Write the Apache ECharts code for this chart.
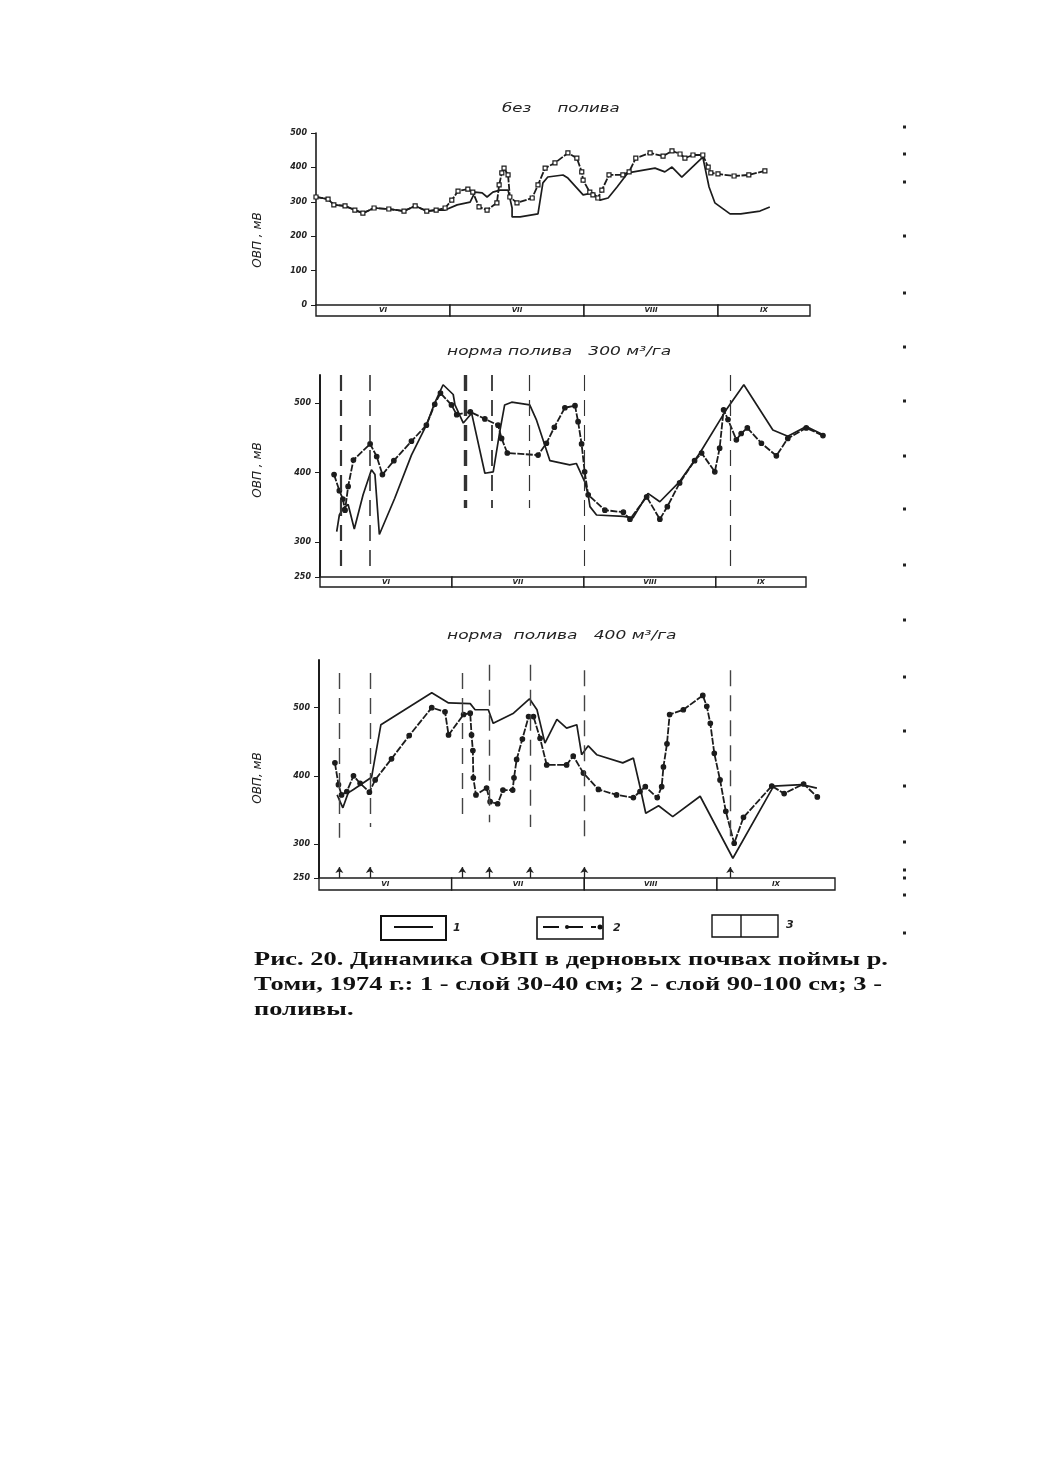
<!DOCTYPE html>
<html lang="ru"><head><meta charset="utf-8">
<style>html,body{margin:0;padding:0;background:#fff}#c{width:1040px;height:1471px}</style>
<script src="https://cdn.jsdelivr.net/npm/echarts@6/dist/echarts.min.js"></script>
</head><body><div id="c"></div>
<script>
// x values: day counted from 1 June (30-day months, as on the month strip); y values: mV
const months = ['VI','VII','VIII','IX'];

const p1Layer1Days = [0,2.7,4,6.5,8.7,10.5,13,16.3,19.7,22.2,24.8,26.9,28.9,31.6,34.5,35.6,37.2,38.3,39.6,41.2,43,43.9,43.9,45.7,49.7,50.8,51.9,55.3,56.4,59.8,62,63.6,65.4,67.4,69.8,75.9,78.1,79.7,81.9,86.6,88,89.3,92.7,95.1,99.4,101.6];
const p1Layer1Mv   = [314,308,291,288,276,267,282,279,273,288,273,276,276,291,299,328,326,314,328,334,334,282,256,256,265,355,372,378,369,320,326,305,311,343,384,398,387,401,372,430,343,297,265,265,273,285];
const p1Layer2Days = [0,2.7,4,6.5,8.7,10.5,13,16.3,19.7,22.2,24.8,26.9,28.9,30.4,31.8,34,35.1,36.5,38.3,40.5,41,41.6,42.1,43,43.4,45,48.4,49.7,51.3,53.5,56.4,58.4,59.5,59.8,61.3,62,63.1,64,65.6,68.7,70.1,71.6,74.8,77.7,79.7,81.5,82.6,84.4,86.6,87.8,88.4,90,93.6,96.9,100.5];
const p1Layer2Mv   = [314,308,291,288,276,267,282,279,273,288,273,276,282,305,331,337,328,285,276,297,349,384,398,378,314,297,311,349,398,413,442,427,387,363,328,320,311,334,378,378,387,427,442,433,448,439,427,436,436,401,384,381,375,378,390];

const p2Layer1Days = [3.8,4.4,5.3,6.4,7.8,9.8,11.7,12.5,13.5,17,20.8,24.2,26.1,28,30.3,30.7,32.6,34.5,37.5,39.4,40.9,42,43.6,47.7,49.2,52.3,56.8,58.3,60.2,61,61.4,62.9,69,71.2,73.9,74.6,77.3,81.8,86.4,92.4,96.4,103,106.4,110.6,114.8];
const p2Layer1Mv   = [315,339,349,354,319,368,404,397,311,363,425,468,500,526,512,497,471,485,399,401,459,497,501,497,476,417,411,413,387,368,351,339,337,335,363,370,358,387,428,490,526,461,452,466,453];
const p2Layer2Days = [3.2,4.4,5.2,5.7,6.4,7.6,11.4,12.9,14.2,16.8,20.8,24.2,26.1,27.4,29.9,31.1,34.2,37.5,40.5,41.3,42.6,49.6,51.5,53.3,55.7,58,58.7,59.5,60.2,61,64.8,69,70.5,74.3,77.3,79,81.8,85.2,86.8,89.8,90.9,91.8,92.8,94.7,95.8,97.2,100.4,103.8,106.4,110.6,114.4];
const p2Layer2Mv   = [397,374,362,346,380,418,441,423,397,417,445,468,498,514,497,483,487,477,468,449,428,425,442,465,493,496,473,441,401,368,346,343,333,365,333,351,385,417,428,401,435,490,476,447,456,464,442,424,449,464,453];
const p2IrrigationDays = [4.7,11.4,33,39.1,47.7,60.2,93.2];
const p2IrrigationLow  = [260,260,349,349,349,260,260];

const p3Layer1Days = [4.1,5.4,6.6,7.8,11.9,14,25.5,29.3,34.2,35.3,38.3,39.4,44,47.6,49.3,51.1,53.8,56,58.3,59.4,60.9,62.8,68.7,71.1,72.6,73.9,76.8,80,86.2,93.6,102.4,102.8,109.2,112.6];
const p3Layer1Mv   = [372,353,375,380,398,475,522,507,506,497,497,477,492,513,497,448,483,470,475,431,444,431,419,426,384,345,356,340,370,279,380,385,387,382];
const p3Layer2Days = [3.6,4.4,5.1,6.3,7.8,9.3,11.4,12.7,16.4,20.4,25.5,28.5,29.3,32.7,34.2,34.5,34.8,34.9,35.5,37.9,38.7,40.4,41.6,43.8,44.1,44.7,46,47.4,48.5,50,51.5,56,57.5,59.8,63.2,67.3,71.1,72.6,73.8,76.5,77.5,77.9,78.7,79.3,82.4,86.8,87.7,88.5,89.4,90.7,92,93.9,96,102.4,105.2,109.6,112.7];
const p3Layer2Mv   = [419,387,372,377,400,389,376,394,425,459,500,494,460,490,492,460,437,397,372,382,362,359,379,379,397,424,454,487,487,455,416,416,429,404,380,372,368,377,384,368,384,413,447,490,497,518,502,477,433,394,348,301,339,385,374,388,369];
const p3IrrigationDays = [4.6,11.5,32.4,38.5,47.7,60,93];
const p3IrrigationHigh = [551,551,551,563,563,555,555];
const p3IrrigationLow  = [309,325,332,332,325,303,303];

const panelTitles = ['без     полива','норма полива   300 м³/га','норма  полива   400 м³/га'];
const yAxisNames  = ['ОВП , мВ','ОВП , мВ','ОВП, мВ'];
const p1Ticks = [0,100,200,300,400,500];
const p2Ticks = [250,300,400,500];
const p3Ticks = [250,300,400,500];
const captionLines = ['Рис. 20. Динамика ОВП в дерновых почвах поймы р.','Томи, 1974 г.: 1 - слой 30-40 см; 2 - слой 90-100 см; 3 -','поливы.'];
const legendNumbers = ['1','2','3'];
const scanSpecks = [127,154,182,236,293,347,401,456,509,565,620,677,731,786,842,870,878,895,933];

const INK = '#1c1c1c';
const ITALIC = {fontFamily:'DejaVu Sans',fontStyle:'italic',color:'#222'};
const zip = (a,b)=>a.map((v,i)=>[v,b[i]]);

const panels = [
 {left:316,right:810,top:133,bottom:305,stripBottom:316,stripRight:810,xMax:110.6,stripMax:110.6,min:0,max:500,ticks:p1Ticks,axisW:1.6,
  d1:zip(p1Layer1Days,p1Layer1Mv), d2:zip(p1Layer2Days,p1Layer2Mv), fill:'#fff', sym:'rect', symSize:4},
 {left:320,right:830,top:375,bottom:577,stripBottom:587,stripRight:806,xMax:116,stripMax:110.5,min:250,max:540,ticks:p2Ticks,axisW:2,
  d1:zip(p2Layer1Days,p2Layer1Mv), d2:zip(p2Layer2Days,p2Layer2Mv), fill:INK, sym:'circle', symSize:4.5},
 {left:319,right:835,top:660,bottom:878,stripBottom:890,stripRight:835,xMax:116.7,stripMax:116.7,min:250,max:570,ticks:p3Ticks,axisW:2,
  d1:zip(p3Layer1Days,p3Layer1Mv), d2:zip(p3Layer2Days,p3Layer2Mv), fill:INK, sym:'circle', symSize:4.5}
];

const grid=[],xAxis=[],yAxis=[],series=[];
panels.forEach((p,i)=>{
  const g=i*2, s=i*2+1;
  grid.push({left:p.left,top:p.top,width:p.right-p.left,height:p.bottom-p.top});
  grid.push({left:p.left,top:p.bottom,width:p.stripRight-p.left,height:p.stripBottom-p.bottom});
  xAxis.push({type:'value',gridIndex:g,min:0,max:p.xMax,show:false});
  xAxis.push({type:'value',gridIndex:s,min:0,max:p.stripMax,show:false});
  yAxis.push({type:'value',gridIndex:g,min:p.min,max:p.max,splitLine:{show:false},
    axisLine:{show:true,onZero:false,lineStyle:{color:INK,width:p.axisW}},
    axisTick:{show:true,length:5,customValues:p.ticks,lineStyle:{color:INK,width:1}},
    axisLabel:{customValues:p.ticks,margin:9,fontSize:8,fontWeight:'bold',...ITALIC}});
  yAxis.push({type:'value',gridIndex:s,min:0,max:1,show:false});

  const monthAreas = months.map((m,k)=>[
    {name:m,xAxis:k*30},{xAxis:k===3?p.stripMax:(k+1)*30}]);
  series.push({type:'line',xAxisIndex:s,yAxisIndex:s,data:[[0,0]],symbol:'none',silent:true,lineStyle:{opacity:0},
    markArea:{silent:true,itemStyle:{color:'#fff',borderColor:INK,borderWidth:1.4},
      label:{position:'inside',fontSize:7,fontWeight:'bold',...ITALIC},data:monthAreas}});
  series.push({name:'1',type:'line',xAxisIndex:g,yAxisIndex:g,data:p.d1,symbol:'none',z:3,
    lineStyle:{color:INK,width:1.7}});
  series.push({name:'2',type:'line',xAxisIndex:g,yAxisIndex:g,data:p.d2,symbol:p.sym,symbolSize:p.symSize,showAllSymbol:true,z:4,
    itemStyle:{color:p.fill,borderColor:INK,borderWidth:1.2},
    lineStyle:{color:INK,width:1.8,type:[7,1.5]}});
});

// irrigation marks (dashed verticals)
const dashLine=(x,hi,lo,w)=>[{xAxis:x,yAxis:hi,lineStyle:w?{width:w}:undefined},{xAxis:x,yAxis:lo}];
const p2DashWidths=[2.2,1.6,3.4,1.8,1.2,1.1,1.2];
series.push({type:'line',xAxisIndex:2,yAxisIndex:2,data:[],markLine:{silent:true,symbol:'none',label:{show:false},animation:false,
  lineStyle:{color:'#333',width:1.6,type:[16,9]},
  data:p2IrrigationDays.map((d,i)=>dashLine(d,540,p2IrrigationLow[i],p2DashWidths[i]))}});
series.push({type:'line',xAxisIndex:4,yAxisIndex:4,data:[],markLine:{silent:true,symbol:'none',label:{show:false},animation:false,
  lineStyle:{color:'#444',width:1.4,type:[16,9]},
  data:p3IrrigationDays.map((d,i)=>dashLine(d,p3IrrigationHigh[i],p3IrrigationLow[i]))}});
series.push({type:'line',xAxisIndex:4,yAxisIndex:4,data:[],markLine:{silent:true,symbol:['none','arrow'],symbolSize:6,label:{show:false},animation:false,
  lineStyle:{color:'#222',width:1.3,type:'solid'},
  data:p3IrrigationDays.map(d=>dashLine(d,250,266))}});

const boxStyle=(w)=>({fill:'#fff',stroke:'#111',lineWidth:w});
const graphic=[];
// panel titles (the scan stretches the lettering horizontally)
[[502,109,1.38],[447,352,1.42],[447,636,1.42]].forEach((t,i)=>graphic.push({type:'text',x:t[0],y:t[1],scaleX:t[2],
  style:{text:panelTitles[i],font:'italic 12px "DejaVu Sans"',fill:'#222',textVerticalAlign:'middle'}}));
[[258,240],[258,470],[258,778]].forEach((pos,i)=>graphic.push({type:'text',x:pos[0],y:pos[1],rotation:Math.PI/2,
  style:{text:yAxisNames[i],font:'italic 12px "DejaVu Sans"',fill:'#222',textAlign:'center',textVerticalAlign:'middle'}}));
// legend
graphic.push({type:'rect',shape:{x:381,y:916,width:65,height:24},style:boxStyle(2)});
graphic.push({type:'line',shape:{x1:394,y1:927,x2:433,y2:927},style:{stroke:'#111',lineWidth:2}});
graphic.push({type:'rect',shape:{x:537,y:917,width:66,height:22},style:boxStyle(1.6)});
graphic.push({type:'line',shape:{x1:543,y1:927,x2:596,y2:927},style:{stroke:'#111',lineWidth:2,lineDash:[16,8]}});
graphic.push({type:'circle',shape:{cx:567,cy:927,r:2},style:{fill:'#111'}});
graphic.push({type:'circle',shape:{cx:600,cy:927,r:2.5},style:{fill:'#111'}});
graphic.push({type:'rect',shape:{x:712,y:915,width:66,height:22},style:boxStyle(1.4)});
graphic.push({type:'line',shape:{x1:741,y1:915,x2:741,y2:937},style:{stroke:'#111',lineWidth:1.4}});
[[453,928],[613,928],[786,925]].forEach((pos,i)=>graphic.push({type:'text',x:pos[0],y:pos[1],
  style:{text:legendNumbers[i],font:'italic bold 11px "DejaVu Sans"',fill:'#222',textVerticalAlign:'middle'}}));
// caption
captionLines.forEach((t,i)=>graphic.push({type:'text',x:254,y:960+i*25,scaleX:1.39,
  style:{text:t,font:'bold 19px "Liberation Serif"',fill:'#111',textVerticalAlign:'middle'}}));
// binding-edge specks of the scan
scanSpecks.forEach(y=>graphic.push({type:'rect',shape:{x:903,y:y-1.5,width:3,height:3},style:{fill:'#222'}}));

echarts.init(document.getElementById('c'),null,{renderer:'canvas'}).setOption({
  animation:false,backgroundColor:'#fff',grid,xAxis,yAxis,series,graphic
});
</script></body></html>
